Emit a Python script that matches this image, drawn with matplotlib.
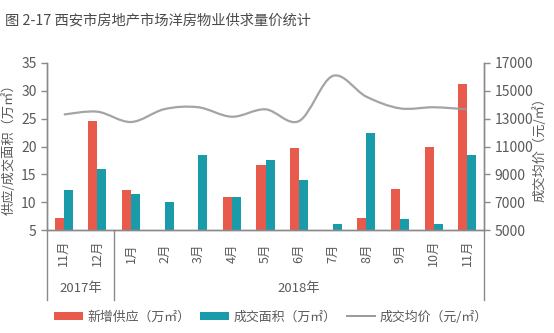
import numpy as np
import matplotlib
matplotlib.use("Agg")
import matplotlib.pyplot as plt
from matplotlib.path import Path
from matplotlib.patches import PathPatch, Patch
from matplotlib.lines import Line2D

plt.rcParams['font.family'] = ['Noto Sans CJK SC', 'DejaVu Sans']
plt.rcParams['font.weight'] = 'light'

months = ["11月", "12月", "1月", "2月", "3月", "4月", "5月", "6月", "7月", "8月", "9月", "10月", "11月"]
years = ["2017年", "2018年"]
supply = [7.2, 24.6, 12.2, 0, 0, 10.9, 16.7, 19.8, 0, 7.2, 12.3, 20.0, 31.3]
deal = [12.2, 16.0, 11.5, 10.0, 18.4, 10.9, 17.6, 13.9, 6.0, 22.5, 7.0, 6.0, 18.4]
price = [13300, 13500, 12760, 13690, 13820, 13140, 13670, 12830, 16070, 14580, 13740, 13820, 13670]

RED = '#E85B4C'
TEAL = '#1A9BAA'
GREY_LINE = '#9a9a9a'
TXT = '#5a5a5a'
AX = '#8a8a8a'

fig = plt.figure(figsize=(5.54, 3.33), dpi=100)
ax = fig.add_axes([47/554, 1-230/333, (484-47)/554, (230-63)/333])
ax2 = ax.twinx()

x = np.arange(len(months))
w = 0.27
ax.bar(x - w/2, supply, w, color=RED, zorder=2)
ax.bar(x + w/2, deal, w, color=TEAL, zorder=2)
ax.set_xlim(-0.5, len(months) - 0.5)
ax.set_ylim(5, 35)
ax.set_yticks(np.arange(5, 36, 5))
ax2.set_ylim(5000, 17000)
ax2.set_yticks(np.arange(5000, 17001, 2000))

# smooth price line (Catmull-Rom converted to Bezier, drawn in data coords)
pts = np.column_stack([x, price]).astype(float)
ext = np.vstack([pts[0], pts, pts[-1]])
verts = [tuple(pts[0])]
codes = [Path.MOVETO]
for i in range(len(pts) - 1):
    p0, p1, p2, p3 = ext[i], ext[i+1], ext[i+2], ext[i+3]
    c1 = p1 + (p2 - p0) / 6
    c2 = p2 - (p3 - p1) / 6
    verts += [tuple(c1), tuple(c2), tuple(p2)]
    codes += [Path.CURVE4] * 3
ax2.add_patch(PathPatch(Path(verts, codes), facecolor='none', edgecolor=GREY_LINE,
                        lw=1.6, alpha=0.9, zorder=3))

for a in (ax, ax2):
    a.spines['top'].set_visible(False)
    for s in a.spines.values():
        s.set_color(AX)
        s.set_linewidth(1.0)
    a.tick_params(axis='y', colors=AX, labelcolor=TXT, labelsize=10, length=4, width=1)
ax.tick_params(axis='x', bottom=False, labelbottom=False)

ax.set_ylabel("供应/成交面积（万㎡）", color=TXT, fontsize=9.5, labelpad=4)
ax2.set_ylabel("成交均价（元/㎡）", color=TXT, fontsize=9.5, rotation=90, labelpad=0)

tr = ax.get_xaxis_transform()
for xi, m in zip(x, months):
    ax.text(xi, -0.138, m, transform=tr, rotation=90, ha='center', va='center',
            fontsize=9, color=TXT)
for xs in (-0.5, 1.5, len(months) - 0.5):
    ax.plot([xs, xs], [0, -0.42], transform=tr, color=AX, lw=1.0, clip_on=False)
ax.text(0.5, -0.353, years[0], transform=tr, ha='center', va='center', fontsize=9.5, color=TXT)
ax.text((1.5 + len(months) - 0.5) / 2, -0.353, years[1], transform=tr, ha='center',
        va='center', fontsize=9.5, color=TXT)

fig.text(5/554, 1-20/333, "图 2-17 西安市房地产市场洋房物业供求量价统计", ha='left', va='center',
         fontsize=10.3, color='#4a4a4a')

handles = [Patch(facecolor=RED), Patch(facecolor=TEAL), Line2D([], [], color=GREY_LINE, lw=1.4)]
labels = ["新增供应（万㎡）", "成交面积（万㎡）", "成交均价（元/㎡）"]
leg = fig.legend(handles, labels, loc='center', bbox_to_anchor=(271/554, 1-317/333), ncol=3,
                 frameon=False, fontsize=9.3, handlelength=2.2, handleheight=0.6,
                 columnspacing=0.8, handletextpad=0.35)
for t in leg.get_texts():
    t.set_color(TXT)

fig.savefig("out.png", dpi=100, facecolor='white')
